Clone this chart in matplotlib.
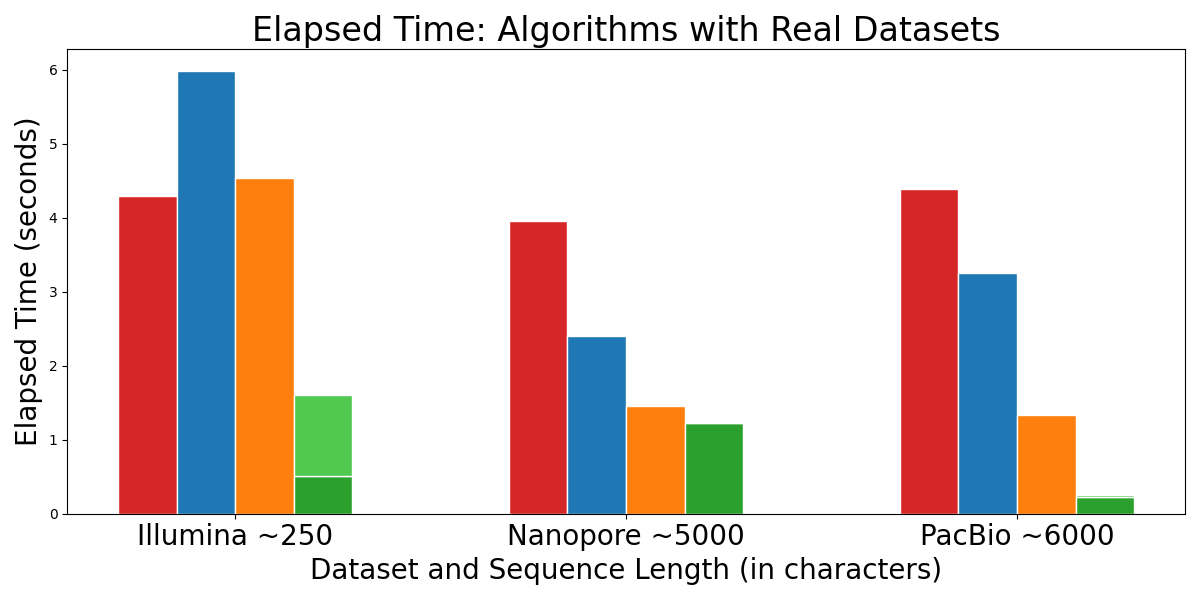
import numpy as np
import matplotlib.pyplot as plt

# data
datasets = ['Illumina ~250', 'Nanopore ~5000', 'PacBio ~6000']
red_vals = [4.29, 3.96, 4.39]
blue_vals = [5.98, 2.40, 3.25]
orange_vals = [4.54, 1.45, 1.33]
green_vals = [0.51, 1.22, 0.22]
green_extra = [1.10, 0.0, 0.03]  # lighter part stacked on top of green

x = np.arange(len(datasets))
w = 0.15

fig, ax = plt.subplots(figsize=(12, 6))
ax.bar(x - 1.5 * w, red_vals, w, color='#d62728', edgecolor='white')
ax.bar(x - 0.5 * w, blue_vals, w, color='#1f77b4', edgecolor='white')
ax.bar(x + 0.5 * w, orange_vals, w, color='#ff7f0e', edgecolor='white')
ax.bar(x + 1.5 * w, green_vals, w, color='#2ca02c', edgecolor='white')
ax.bar(x + 1.5 * w, green_extra, w, bottom=green_vals, color='#51c951', edgecolor='white')

ax.set_xticks(x)
ax.set_xticklabels(datasets, fontsize=20)
ax.set_title('Elapsed Time: Algorithms with Real Datasets', fontsize=24)
ax.set_xlabel('Dataset and Sequence Length (in characters)', fontsize=20)
ax.set_ylabel('Elapsed Time (seconds)', fontsize=20)

plt.tight_layout()
plt.savefig('out.png', dpi=100)
